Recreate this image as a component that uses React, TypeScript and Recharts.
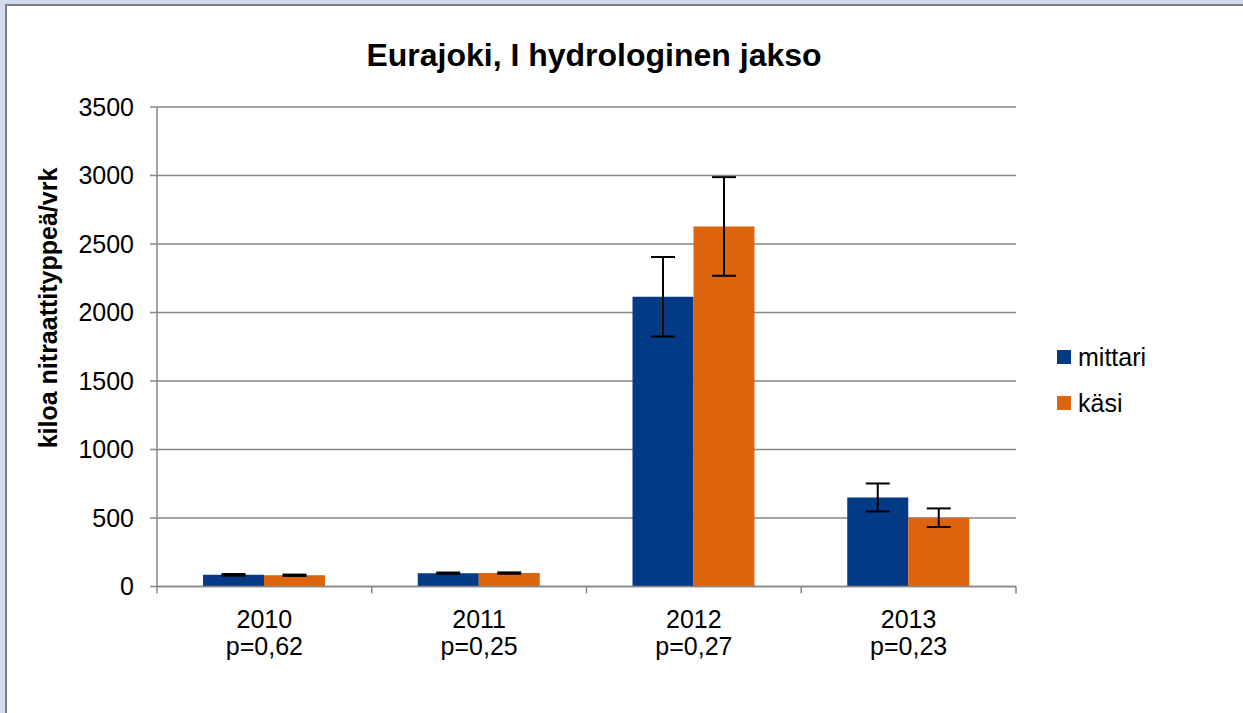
import React from 'react';
import { BarChart, Bar, XAxis, YAxis, CartesianGrid, ErrorBar } from 'recharts';

const years = ['2010', '2011', '2012', '2013'];
const pValues = ['p=0,62', 'p=0,25', 'p=0,27', 'p=0,23'];
const mittari = [85, 97, 2115, 650];
const kasi = [82, 98, 2628, 502];
const mittariErr = [6, 5, 290, 102];
const kasiErr = [5, 5, 360, 68];
const yTicks = [0, 500, 1000, 1500, 2000, 2500, 3000, 3500];
const seriesNames = ['mittari', 'käsi'];

const BLUE = '#023a85';
const ORANGE = '#db640d';
const GRID = '#868686';
const FONT = 'Arial, "Liberation Sans", sans-serif';

const W = 1243;
const H = 713;
const PLOT_LEFT = 157;
const PLOT_RIGHT = 1016;
const BAND = (PLOT_RIGHT - PLOT_LEFT) / years.length;

const data = years.map((y, i) => ({
  year: y,
  mittari: mittari[i],
  kasi: kasi[i],
  mittariErr: mittariErr[i],
  kasiErr: kasiErr[i],
}));

function XTick(props: any) {
  const { x, y, payload, index } = props;
  const left = x - BAND / 2;
  const right = x + BAND / 2;
  return (
    <g>
      <line x1={left} y1={y} x2={left} y2={y + 7} stroke={GRID} strokeWidth={1.5} />
      {index === years.length - 1 && (
        <line x1={right} y1={y} x2={right} y2={y + 7} stroke={GRID} strokeWidth={1.5} />
      )}
      <text x={x} y={y + 41} textAnchor="middle" fontSize={25} fill="#000" fontFamily={FONT}>
        {payload.value}
      </text>
      <text x={x} y={y + 68} textAnchor="middle" fontSize={25} fill="#000" fontFamily={FONT}>
        {pValues[index]}
      </text>
    </g>
  );
}

function LegendBox() {
  const colors = [BLUE, ORANGE];
  return (
    <div style={{ position: 'absolute', left: 1057, top: 334, fontFamily: FONT }}>
      {seriesNames.map((name, i) => (
        <div key={name} style={{ display: 'flex', alignItems: 'center', height: 46 }}>
          <div style={{ width: 14, height: 14, background: colors[i], marginRight: 7 }} />
          <span style={{ fontSize: 25, color: '#000' }}>{name}</span>
        </div>
      ))}
    </div>
  );
}

export default function App() {
  return (
    <div
      style={{
        position: 'fixed',
        left: 0,
        top: 0,
        width: W,
        height: H,
        overflow: 'hidden',
        background: '#d4dbef',
        fontFamily: FONT,
      }}
    >
      <div
        style={{
          position: 'absolute',
          left: 5,
          top: 4,
          width: W,
          height: H,
          background: '#ffffff',
          borderTop: '2px solid #7f7f7f',
          borderLeft: '2px solid #7f7f7f',
          boxSizing: 'border-box',
        }}
      />
      <div
        style={{
          position: 'absolute',
          left: 294,
          top: 37,
          width: 600,
          textAlign: 'center',
          fontSize: 32,
          fontWeight: 'bold',
          lineHeight: '36px',
          color: '#000',
        }}
      >
        Eurajoki, I hydrologinen jakso
      </div>
      <div
        style={{
          position: 'absolute',
          left: 48 - 200,
          top: 308 - 15,
          width: 400,
          height: 30,
          lineHeight: '30px',
          textAlign: 'center',
          fontSize: 25,
          fontWeight: 'bold',
          color: '#000',
          transform: 'rotate(-90deg)',
        }}
      >
        kiloa nitraattityppeä/vrk
      </div>
      <LegendBox />
      <div style={{ position: 'absolute', left: 0, top: 0 }}>
        <BarChart
          width={W}
          height={H}
          data={data}
          margin={{ top: 107, right: W - PLOT_RIGHT, bottom: 46.5, left: PLOT_LEFT - 100 }}
          barCategoryGap={46}
          barGap={0}
        >
          <CartesianGrid vertical={false} stroke={GRID} strokeWidth={1.5} />
          <XAxis
            dataKey="year"
            height={80}
            axisLine={{ stroke: GRID, strokeWidth: 1.5 }}
            tickLine={false}
            tickSize={0}
            tickMargin={0}
            tick={<XTick />}
            interval={0}
          />
          <YAxis
            width={100}
            domain={[0, 3500]}
            ticks={yTicks}
            interval={0}
            axisLine={{ stroke: GRID, strokeWidth: 1.5 }}
            tickLine={{ stroke: GRID, strokeWidth: 1.5 }}
            tickSize={7}
            tickMargin={16}
            tick={{ fontSize: 25, fill: '#000', fontFamily: FONT }}
          />
          <Bar dataKey="mittari" name={seriesNames[0]} fill={BLUE} isAnimationActive={false}>
            <ErrorBar dataKey="mittariErr" width={12} stroke="#000" strokeWidth={2} />
          </Bar>
          <Bar dataKey="kasi" name={seriesNames[1]} fill={ORANGE} isAnimationActive={false}>
            <ErrorBar dataKey="kasiErr" width={12} stroke="#000" strokeWidth={2} />
          </Bar>
        </BarChart>
      </div>
    </div>
  );
}
